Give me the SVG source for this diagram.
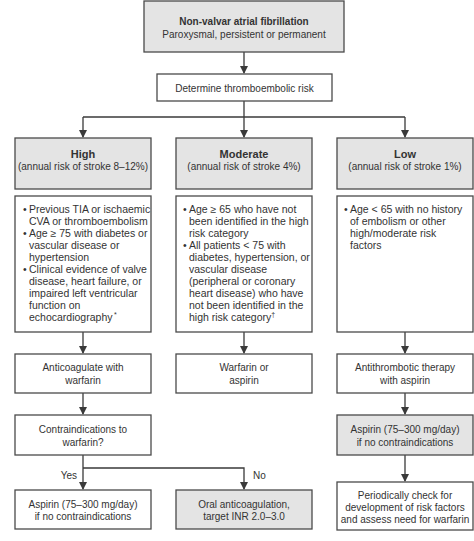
<svg xmlns="http://www.w3.org/2000/svg" width="474" height="541" viewBox="0 0 474 541">
<defs>
<marker id="arr" markerUnits="userSpaceOnUse" markerWidth="8" markerHeight="10" refX="7" refY="4" orient="auto">
<path d="M0,0 L8,4 L0,8 Z" fill="#3a3a3a"/>
</marker>
<style>
.box{fill:#ffffff;stroke:#4a4a4a;stroke-width:1.3}
.gray{fill:#e4e4e4;stroke:#4a4a4a;stroke-width:1.3}
.t{font-family:"Liberation Sans",Arial,sans-serif;font-size:10px;fill:#333333}
.l{font-size:10.5px}
.c{text-anchor:middle}
.b{font-weight:bold}
.h{font-size:11px}
.conn{fill:none;stroke:#3a3a3a;stroke-width:1.3}
.sup{font-size:7px}
</style>
</defs>
<rect width="474" height="541" fill="#ffffff"/>

<g id="connectors">
<line class="conn" x1="244" y1="52" x2="244" y2="73" marker-end="url(#arr)"/>
<polyline class="conn" points="244,101 244,117"/>
<polyline class="conn" points="83,117 405,117"/>
<line class="conn" x1="83" y1="117" x2="83" y2="137" marker-end="url(#arr)"/>
<line class="conn" x1="244" y1="117" x2="244" y2="137" marker-end="url(#arr)"/>
<line class="conn" x1="405" y1="117" x2="405" y2="137" marker-end="url(#arr)"/>
<line class="conn" x1="83" y1="332" x2="83" y2="353" marker-end="url(#arr)"/>
<line class="conn" x1="244" y1="332" x2="244" y2="353" marker-end="url(#arr)"/>
<line class="conn" x1="405" y1="332" x2="405" y2="353" marker-end="url(#arr)"/>
<line class="conn" x1="83" y1="393" x2="83" y2="414" marker-end="url(#arr)"/>
<line class="conn" x1="405" y1="393" x2="405" y2="414" marker-end="url(#arr)"/>
<line class="conn" x1="83" y1="455" x2="83" y2="489" marker-end="url(#arr)"/>
<polyline class="conn" points="83,468 244,468 244,489" marker-end="url(#arr)"/>
<line class="conn" x1="405" y1="455" x2="405" y2="481" marker-end="url(#arr)"/>
<text class="t" x="77" y="479" text-anchor="end">Yes</text>
<text class="t" x="253" y="479">No</text>
</g>

<g id="start">
<rect class="gray" x="144" y="1" width="200" height="51"/>
<text class="t c b" x="244" y="25" font-size="11.5">Non-valvar atrial fibrillation</text>
<text class="t c" x="244" y="38">Paroxysmal, persistent or permanent</text>
</g>

<g id="determine">
<rect class="box" x="157" y="74" width="175" height="27"/>
<text class="t c" x="244.5" y="91.5">Determine thromboembolic risk</text>
</g>

<g id="high">
<rect class="gray" x="15" y="138" width="136" height="51"/>
<text class="t c b h" x="83" y="158">High</text>
<text class="t c" x="83" y="170">(annual risk of stroke 8–12%)</text>
</g>

<g id="moderate">
<rect class="gray" x="176" y="138" width="136" height="51"/>
<text class="t c b h" x="244" y="158">Moderate</text>
<text class="t c" x="244" y="170">(annual risk of stroke 4%)</text>
</g>

<g id="low">
<rect class="gray" x="337" y="138" width="136" height="51"/>
<text class="t c b h" x="405" y="158">Low</text>
<text class="t c" x="405" y="170">(annual risk of stroke 1%)</text>
</g>

<g id="high-criteria">
<rect class="box" x="15" y="196" width="136" height="136"/>
<text class="t l" x="23" y="213">•</text>
<text class="t l" x="29" y="213">Previous TIA or ischaemic</text>
<text class="t l" x="29" y="225">CVA or thromboembolism</text>
<text class="t l" x="23" y="237">•</text>
<text class="t l" x="29" y="237">Age ≥ 75 with diabetes or</text>
<text class="t l" x="29" y="249">vascular disease or</text>
<text class="t l" x="29" y="261">hypertension</text>
<text class="t l" x="23" y="273">•</text>
<text class="t l" x="29" y="273">Clinical evidence of valve</text>
<text class="t l" x="29" y="285">disease, heart failure, or</text>
<text class="t l" x="29" y="297">impaired left ventricular</text>
<text class="t l" x="29" y="309">function on</text>
<text class="t l" x="29" y="321">echocardiography<tspan class="sup" dx="1.5" dy="-4">*</tspan></text>
</g>

<g id="moderate-criteria">
<rect class="box" x="176" y="196" width="136" height="136"/>
<text class="t l" x="183" y="213">•</text>
<text class="t l" x="189" y="213">Age ≥ 65 who have not</text>
<text class="t l" x="189" y="225">been identified in the high</text>
<text class="t l" x="189" y="237">risk category</text>
<text class="t l" x="183" y="249">•</text>
<text class="t l" x="189" y="249">All patients &lt; 75 with</text>
<text class="t l" x="189" y="261">diabetes, hypertension, or</text>
<text class="t l" x="189" y="273">vascular disease</text>
<text class="t l" x="189" y="285">(peripheral or coronary</text>
<text class="t l" x="189" y="297">heart disease) who have</text>
<text class="t l" x="189" y="309">not been identified in the</text>
<text class="t l" x="189" y="321">high risk category<tspan class="sup" dy="-4">†</tspan></text>
</g>

<g id="low-criteria">
<rect class="box" x="337" y="196" width="136" height="136"/>
<text class="t l" x="344" y="213">•</text>
<text class="t l" x="350" y="213">Age &lt; 65 with no history</text>
<text class="t l" x="350" y="225">of embolism or other</text>
<text class="t l" x="350" y="237">high/moderate risk</text>
<text class="t l" x="350" y="249">factors</text>
</g>

<g id="anticoagulate">
<rect class="box" x="15" y="354" width="136" height="39"/>
<text class="t c" x="83" y="371">Anticoagulate with</text>
<text class="t c" x="83" y="384">warfarin</text>
</g>

<g id="warfarin-or-aspirin">
<rect class="box" x="176" y="354" width="136" height="39"/>
<text class="t c" x="244" y="371">Warfarin or</text>
<text class="t c" x="244" y="384">aspirin</text>
</g>

<g id="antithrombotic">
<rect class="box" x="337" y="354" width="136" height="39"/>
<text class="t c" x="405" y="371">Antithrombotic therapy</text>
<text class="t c" x="405" y="384">with aspirin</text>
</g>

<g id="contraindications">
<rect class="box" x="15" y="415" width="136" height="40"/>
<text class="t c" x="83" y="433">Contraindications to</text>
<text class="t c" x="83" y="446">warfarin?</text>
</g>

<g id="low-aspirin">
<rect class="gray" x="337" y="415" width="136" height="40"/>
<text class="t c" x="405" y="433">Aspirin (75–300 mg/day)</text>
<text class="t c" x="405" y="446">if no contraindications</text>
</g>

<g id="high-aspirin">
<rect class="box" x="15" y="490" width="136" height="39"/>
<text class="t c" x="83" y="507.5">Aspirin (75–300 mg/day)</text>
<text class="t c" x="83" y="520">if no contraindications</text>
</g>

<g id="oral-anticoagulation">
<rect class="gray" x="176" y="490" width="136" height="39"/>
<text class="t c" x="244" y="507.5">Oral anticoagulation,</text>
<text class="t c" x="244" y="520">target INR 2.0–3.0</text>
</g>

<g id="periodically">
<rect class="box" x="337" y="482" width="136" height="48"/>
<text class="t c" x="405" y="498.5">Periodically check for</text>
<text class="t c" x="405" y="510.5">development of risk factors</text>
<text class="t c" x="405" y="522.5">and assess need for warfarin</text>
</g>
</svg>
